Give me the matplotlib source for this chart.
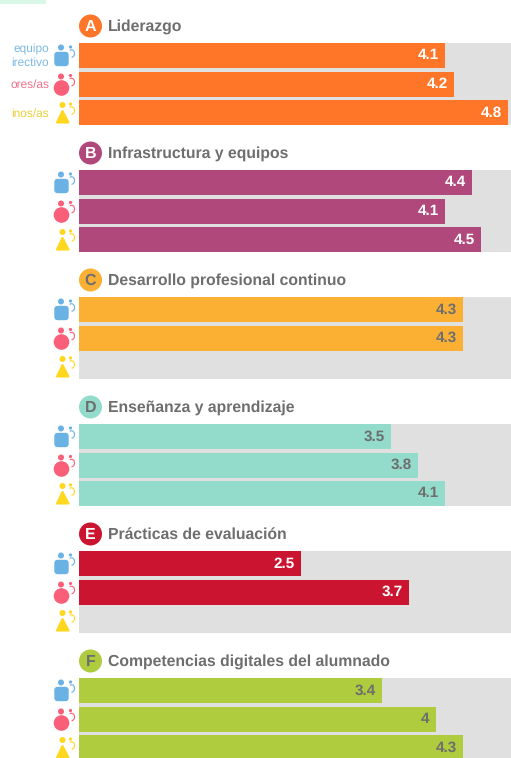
import matplotlib
matplotlib.use("Agg")
import matplotlib.pyplot as plt
from matplotlib.patches import Circle, FancyBboxPatch, Polygon, Arc, Rectangle

plt.rcParams['font.family'] = ['Liberation Sans', 'DejaVu Sans']
plt.rcParams['text.hinting'] = 'none'

titles = ["Liderazgo", "Infrastructura y equipos", "Desarrollo profesional continuo",
          "Enseñanza y aprendizaje", "Prácticas de evaluación",
          "Competencias digitales del alumnado"]
letters = ["A", "B", "C", "D", "E", "F"]
colors = ["#FF7629", "#B0487C", "#FBB034", "#93DCCB", "#CB1530", "#AFCB3E"]
label_colors = ["white", "white", "#6E6E6E", "#6E6E6E", "white", "#6E6E6E"]
badge_text = ["white", "white", "#6E6E6E", "#6E6E6E", "white", "#6E6E6E"]

directivo = [4.1, 4.4, 4.3, 3.5, 2.5, 3.4]
profesorado = [4.2, 4.1, 4.3, 3.8, 3.7, 4]
alumnado = [4.8, 4.5, None, 4.1, None, 4.3]

# the labels are cut off at the left in the source picture
role_labels = ["equipo\nirectivo", "ores/as", "inos/as"]
role_colors = ["#6AB2E4", "#FA5F79", "#FFD71F"]
role_text = ["#7DBBE6", "#F0708A", "#E8CE3A"]

W, H = 511, 758
fig = plt.figure(figsize=(W / 100, H / 100), dpi=100)

# overlay in pixel coords for badges, icons and labels
over = fig.add_axes([0, 0, 1, 1], zorder=5)
over.set_xlim(0, W)
over.set_ylim(H, 0)
over.axis("off")
over.add_patch(Rectangle((0, 0), 46, 3.5, color="#D9F7E6", lw=0))

GROUP_TOP = 43
GROUP_STEP = 127
BLOCK_H = 82


def draw_icon(kind, y):
    c = role_colors[kind]
    if kind == 0:
        over.add_patch(FancyBboxPatch((56.5, y + 11), 10, 10, boxstyle="round,pad=2.2,rounding_size=3.5", color=c, lw=0))
        over.add_patch(Circle((61, y + 4.5), 3, color=c, lw=0))
    elif kind == 1:
        over.add_patch(Circle((61.5, y + 16.5), 7.8, color=c, lw=0))
        over.add_patch(Circle((61, y + 5), 3, color=c, lw=0))
    else:
        over.add_patch(Polygon([(62.5, y + 11), (57, y + 22.5), (68.5, y + 22.5)], closed=True,
                               facecolor=c, edgecolor=c, lw=1.5, joinstyle="round"))
        over.add_patch(Circle((62.5, y + 5), 3, color=c, lw=0))
    over.add_patch(Circle((70.5, y + 4), 1.6, color=c, lw=0))
    over.add_patch(Arc((71.5, y + 10.5), 6, 7.5, theta1=-120, theta2=90, color=c, lw=0.8))


for i, title in enumerate(titles):
    top = GROUP_TOP + i * GROUP_STEP
    ax = fig.add_axes([79 / W, 1 - (top + BLOCK_H) / H, (W - 79) / W, BLOCK_H / H])
    ax.set_facecolor("#E0E0E0")
    ax.set_xlim(0.033, 4.833)
    ax.set_ylim(BLOCK_H, 0)
    for s in ax.spines.values():
        s.set_visible(False)
    ax.set_xticks([])
    ax.set_yticks([])

    vals = [directivo[i], profesorado[i], alumnado[i]]
    ys = [12.5, 41, 69.5]
    for y, v in zip(ys, vals):
        if v is None:
            continue
        ax.barh(y, v, height=25, color=colors[i], lw=0)
        ax.text(v - 0.07, y, str(v), ha="right", va="center", color=label_colors[i],
                fontsize=11, fontweight="bold")

    for k, y in enumerate(ys):
        draw_icon(k, top + y - 12.5)

    over.add_patch(Circle((90.5, top - 17), 11.5, color=colors[i], lw=0))
    over.text(90.5, top - 16.5, letters[i], ha="center", va="center", fontsize=11.5,
              fontweight="bold", color=badge_text[i])
    over.text(108, top - 16.5, title, ha="left", va="center", fontsize=11.3,
              fontweight="bold", color="#6E6E6E")

for k, y in enumerate([56, 85, 113.5]):
    over.text(49, y, role_labels[k], ha="right", va="center", fontsize=8.6,
              color=role_text[k], linespacing=1.25)

fig.savefig("out.png", dpi=100)
